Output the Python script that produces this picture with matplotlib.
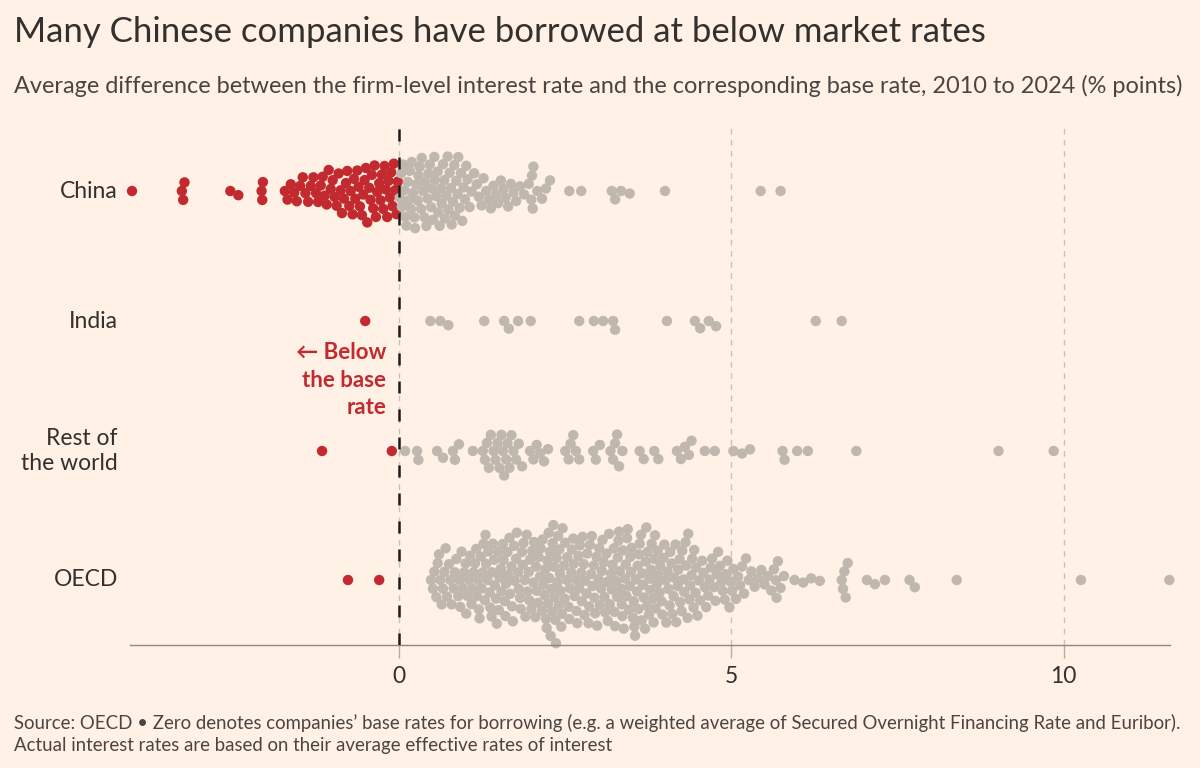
import numpy as np
import matplotlib
matplotlib.use("Agg")
import matplotlib.pyplot as plt

plt.rcParams['font.family'] = ['Lato', 'DejaVu Sans']

#%% datos (% points)
filas = ["China", "India", "Rest of\nthe world", "OECD"]

china = [-4.02, -3.27, -3.25, -3.23, -2.54, -2.42, -2.07, -2.06, -2.05,
         -1.72, -1.68, -1.63, -1.58, -1.54, -1.49, -1.45, -1.41, -1.37, -1.33,
         -1.29, -1.25, -1.22, -1.18, -1.15, -1.12, -1.09, -1.06, -1.03, -1.00,
         -0.97, -0.94, -0.91, -0.88, -0.86, -0.83, -0.80, -0.78, -0.75, -0.73,
         -0.70, -0.68, -0.66, -0.63, -0.61, -0.59, -0.56, -0.54, -0.52, -0.50,
         -0.48, -0.45, -0.43, -0.41, -0.39, -0.37, -0.35, -0.33, -0.30, -0.28,
         -0.26, -0.24, -0.22, -0.20, -0.18, -0.16, -0.14, -0.12, -0.10, -0.08,
         -0.06, -0.04, -0.02,
         0.01, 0.03, 0.04, 0.06, 0.08, 0.09, 0.11, 0.13, 0.14, 0.16, 0.18,
         0.19, 0.21, 0.23, 0.24, 0.26, 0.28, 0.29, 0.31, 0.33, 0.34, 0.36,
         0.38, 0.39, 0.41, 0.43, 0.44, 0.46, 0.48, 0.49, 0.51, 0.53, 0.54,
         0.56, 0.58, 0.59, 0.61, 0.63, 0.64, 0.66, 0.68, 0.69, 0.71, 0.73,
         0.74, 0.76, 0.78, 0.79, 0.81, 0.83, 0.84, 0.86, 0.88, 0.89, 0.91,
         0.93, 0.95, 0.97, 0.99, 1.01, 1.03, 1.06,
         1.09, 1.13, 1.17, 1.20, 1.24, 1.27, 1.31, 1.35, 1.38, 1.42, 1.46,
         1.49, 1.53, 1.57, 1.60, 1.64, 1.68, 1.72, 1.76,
         1.82, 1.88, 1.95, 1.99, 2.00, 2.01, 2.02, 2.08, 2.15, 2.21, 2.27,
         2.56, 2.74, 3.20, 3.25, 3.34, 3.47, 4.00, 5.44, 5.74]

india = [-0.51, 0.47, 0.62, 0.74, 1.28, 1.58, 1.65, 1.79, 1.98, 2.71, 2.93,
         3.07, 3.22, 3.25, 4.03, 4.45, 4.53, 4.66, 4.77, 6.27, 6.66]

resto = [-1.16, -0.11, 0.09, 0.27, 0.29, 0.57, 0.66, 0.81, 0.84, 0.90, 1.11,
         1.26, 1.29, 1.32, 1.35, 1.38, 1.42, 1.45, 1.48, 1.51, 1.54, 1.56,
         1.58, 1.61, 1.63, 1.66, 1.69, 1.72, 1.76, 1.80, 1.85,
         1.97, 2.02, 2.07, 2.12, 2.18, 2.24, 2.50, 2.55, 2.58, 2.62, 2.66,
         2.71, 2.92, 2.96, 3.02, 3.18, 3.22, 3.25, 3.28, 3.31, 3.36, 3.62,
         3.68, 3.84, 3.90, 4.18, 4.24, 4.30, 4.36, 4.40, 4.60, 4.75, 5.03,
         5.16, 5.28, 5.77, 5.80, 5.99, 6.15, 6.88, 9.02, 9.85]

oecd = [-0.77, -0.30,
        0.48, 0.51, 0.53, 0.56, 0.58, 0.60, 0.62, 0.64, 0.66, 0.68, 0.70,
        0.72, 0.75, 0.77, 0.79, 0.82, 0.84, 0.86, 0.89,
        0.91, 0.92, 0.94, 0.96, 0.98, 1.00, 1.01, 1.03, 1.05, 1.07, 1.09,
        1.10, 1.12, 1.14, 1.16, 1.17, 1.19,
        1.20, 1.21, 1.23, 1.24, 1.26, 1.27, 1.29, 1.30, 1.31, 1.33, 1.34,
        1.36, 1.37, 1.39, 1.40, 1.41, 1.43, 1.44, 1.46, 1.47, 1.49, 1.50,
        1.51, 1.53, 1.54, 1.56, 1.57, 1.59, 1.60, 1.61, 1.63, 1.64, 1.66,
        1.67, 1.69, 1.70, 1.71, 1.73, 1.74, 1.76, 1.77, 1.79,
        1.80, 1.82, 1.83, 1.85, 1.86, 1.87, 1.89, 1.90, 1.92, 1.93, 1.95,
        1.96, 1.97, 1.99, 2.00, 2.02, 2.03, 2.05, 2.06, 2.07, 2.09, 2.10,
        2.12, 2.13, 2.15, 2.16, 2.17, 2.19,
        2.20, 2.21, 2.22, 2.23, 2.24, 2.25, 2.26, 2.27, 2.28, 2.29, 2.30,
        2.31, 2.32, 2.33, 2.34, 2.35, 2.36, 2.37, 2.38, 2.39, 2.40, 2.41,
        2.42, 2.43, 2.44, 2.45,
        2.46, 2.48, 2.49, 2.50, 2.52, 2.53, 2.55, 2.56, 2.57, 2.59, 2.60,
        2.62, 2.63, 2.64, 2.66, 2.67, 2.68, 2.70,
        2.71, 2.72, 2.74, 2.75, 2.76, 2.78, 2.79, 2.80, 2.82, 2.83, 2.85,
        2.86, 2.87, 2.89, 2.90, 2.91, 2.93, 2.94, 2.95, 2.97, 2.98, 3.00,
        3.01, 3.02, 3.04, 3.05, 3.06, 3.08, 3.09, 3.10, 3.12, 3.13, 3.14,
        3.16, 3.17, 3.19, 3.20, 3.21, 3.23, 3.24, 3.25, 3.27, 3.28, 3.29,
        3.30, 3.31, 3.32, 3.34, 3.35, 3.36, 3.37, 3.38, 3.40, 3.41, 3.42,
        3.43, 3.44, 3.46, 3.47, 3.48, 3.49, 3.50, 3.52, 3.53, 3.54, 3.55,
        3.56, 3.58, 3.59, 3.60, 3.61, 3.62, 3.64, 3.65, 3.66, 3.67, 3.68,
        3.70, 3.71, 3.72, 3.73, 3.74, 3.76, 3.77, 3.78, 3.79, 3.80, 3.82,
        3.83, 3.84, 3.85, 3.86, 3.88, 3.89,
        3.90, 3.92, 3.93, 3.95, 3.96, 3.98, 3.99, 4.01, 4.02, 4.04, 4.05,
        4.07, 4.08, 4.10, 4.11, 4.13, 4.14, 4.16, 4.17, 4.19, 4.20, 4.22,
        4.23, 4.25, 4.26, 4.28, 4.29, 4.31, 4.32, 4.34, 4.35, 4.37, 4.38,
        4.40, 4.41, 4.43, 4.44, 4.46, 4.47, 4.49,
        4.51, 4.53, 4.56, 4.58, 4.60, 4.62, 4.65, 4.67, 4.69, 4.71, 4.74,
        4.76, 4.78, 4.80, 4.83, 4.85, 4.87, 4.90, 4.92, 4.94, 4.97, 4.99,
        5.01, 5.03,
        5.07, 5.10, 5.13, 5.16, 5.19, 5.22, 5.26, 5.30, 5.35, 5.40, 5.45,
        5.50, 5.55, 5.60, 5.64, 5.67, 5.68, 5.70, 5.74, 5.79,
        5.95, 6.08, 6.20, 6.33, 6.66, 6.68, 6.70, 6.72, 6.75, 7.04, 7.16,
        7.31, 7.68, 7.76, 8.39, 10.26, 11.59]

datos = [china, india, resto, oecd]

#%% colores
fondo = "#fff1e5"
rojo = "#c22a2f"
gris = "#c0b7af"
texto = "#33302e"

#%% geometria en pixeles (la figura es 1200x768)
W, H = 1200, 768
x0, x1 = 130, 1170      # bordes del eje
ytop, ybot = 125, 645
xlim = (-4.05, 11.6)
centros = [191, 321, 451, 580]
px_por_unidad = (x1 - x0) / (xlim[1] - xlim[0])
diam = 9.0              # diametro de colision en px


def beeswarm(vals, d):
    # coloca cada punto lo mas cerca posible del centro sin superponerse
    orden = np.argsort(vals)
    xs = np.array(vals)[orden] * px_por_unidad
    puestos = []
    ys = np.zeros(len(xs))
    for i, x in enumerate(xs):
        cerca = [(px, py) for px, py in puestos if abs(px - x) < d]
        cands = [0.0]
        for px, py in cerca:
            dy = np.sqrt(d * d - (px - x) ** 2)
            cands += [py + dy, py - dy]
        cands.sort(key=abs)
        for c in cands:
            if all((px - x) ** 2 + (py - c) ** 2 >= d * d - 1e-6 for px, py in cerca):
                ys[i] = c
                puestos.append((x, c))
                break
    salida = np.zeros(len(xs))
    salida[orden] = ys
    return salida


fig = plt.figure(figsize=(W / 100, H / 100), dpi=100)
fig.patch.set_facecolor(fondo)
ax = fig.add_axes([x0 / W, 1 - ybot / H, (x1 - x0) / W, (ybot - ytop) / H])
ax.set_facecolor(fondo)
ax.set_xlim(*xlim)
ax.set_ylim(ybot, ytop)   # eje y en pixeles, invertido

for vals, yc in zip(datos, centros):
    v = np.array(vals)
    dy = beeswarm(vals, diam)
    cols = np.where(v < 0, rojo, gris)
    ax.scatter(v, yc + dy, s=56, c=cols, linewidths=0, zorder=2, clip_on=False)

# lineas de referencia
for xv in [0, 5, 10]:
    ax.axvline(xv, color="#c9c0b8", lw=1.0, dashes=(4, 4), zorder=1)
ax.axvline(0, color="#1d1b1a", lw=1.8, dashes=(4.8, 6.4), zorder=3)

for s in ["top", "right", "left"]:
    ax.spines[s].set_visible(False)
ax.spines["bottom"].set_color("#8e8882")
ax.spines["bottom"].set_linewidth(1.0)
ax.set_yticks([])
ax.set_xticks([0, 5, 10])
ax.set_xticklabels(["0", "5", "10"])
ax.tick_params(axis="x", length=9.4, width=1, color="#b3aba4", pad=6,
               labelsize=16.5, labelcolor=texto)


def fx(x):
    return x / W


def fy(y):
    return 1 - y / H


# etiquetas de filas
for nombre, yc in zip(filas, centros):
    fig.text(fx(118), fy(yc), nombre, ha="right", va="center", fontsize=16.5,
             color=texto, linespacing=1.25)

# anotacion
fig.text(fx(386), fy(380), "\u2190 Below\nthe base\nrate", ha="right", va="center",
         fontsize=16, color=rojo, fontweight="bold", linespacing=1.4,
         family=["Lato", "DejaVu Sans"])

fig.text(fx(14), fy(32), "Many Chinese companies have borrowed at below market rates",
         ha="left", va="center", fontsize=25, color=texto)
fig.text(fx(14), fy(86), "Average difference between the firm-level interest rate and the "
         "corresponding base rate, 2010 to 2024 (% points)",
         ha="left", va="center", fontsize=16.9, color="#4a4542")
fig.text(fx(14), fy(734), "Source: OECD \u2022 Zero denotes companies\u2019 base rates for borrowing "
         "(e.g. a weighted average of Secured Overnight Financing Rate and Euribor).\n"
         "Actual interest rates are based on their average effective rates of interest",
         ha="left", va="center", fontsize=13.4, color="#4a4542", linespacing=1.3)

fig.savefig("out.png", dpi=100, facecolor=fondo)
